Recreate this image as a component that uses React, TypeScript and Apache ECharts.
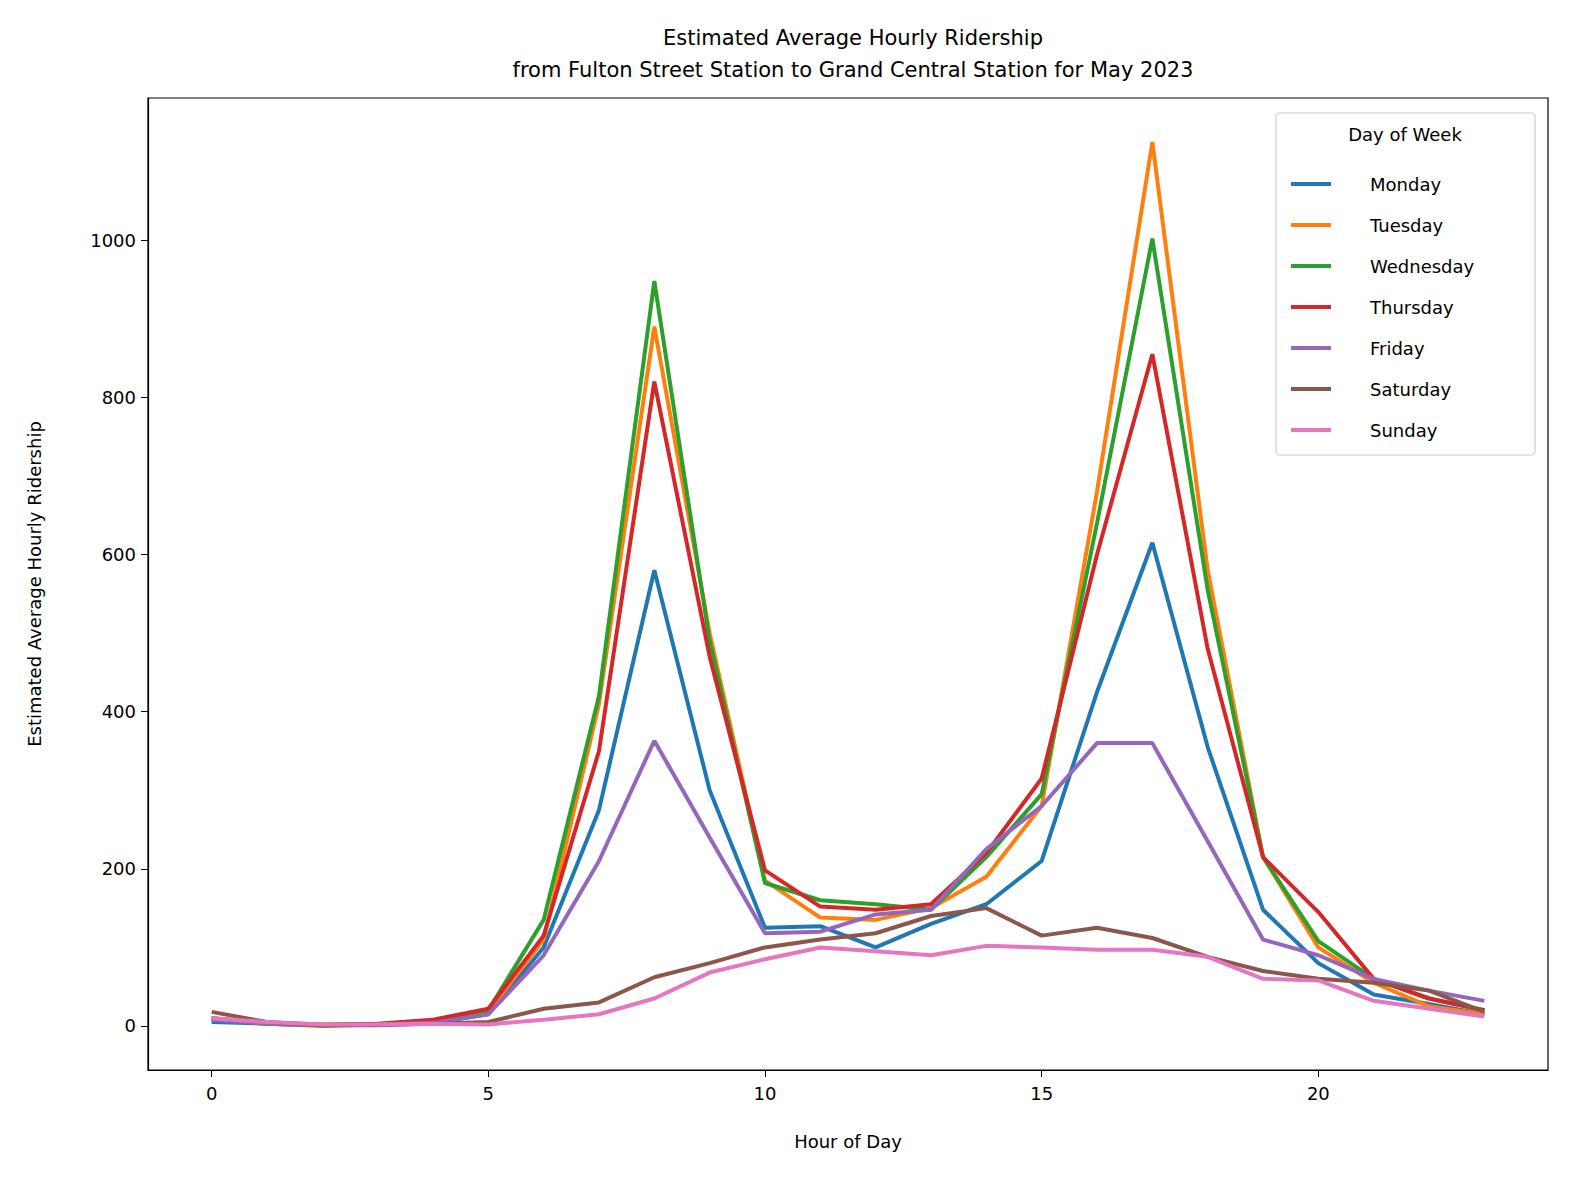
import * as echarts from "echarts";
import { useEffect, useRef } from "react";

const hours = Array.from({ length: 24 }, (_, i) => i);
const dayNames = ["Monday", "Tuesday", "Wednesday", "Thursday", "Friday", "Saturday", "Sunday"];
const colors = ["#1f77b4", "#ff7f0e", "#2ca02c", "#d62728", "#9467bd", "#8c564b", "#e377c2"];

const monday = [5, 3, 1, 2, 4, 15, 100, 275, 580, 300, 125, 127, 100, 130, 155, 210, 425, 615, 355, 148, 80, 40, 28, 15];
const tuesday = [10, 3, 0, 2, 5, 18, 110, 410, 890, 500, 185, 138, 135, 150, 190, 280, 680, 1125, 580, 215, 100, 55, 25, 15];
const wednesday = [8, 3, 1, 2, 5, 20, 135, 420, 948, 490, 182, 160, 155, 148, 215, 295, 640, 1002, 555, 215, 108, 60, 35, 20];
const thursday = [10, 4, 2, 3, 8, 22, 115, 350, 820, 470, 198, 152, 148, 155, 220, 315, 600, 855, 480, 215, 145, 60, 35, 20];
const friday = [8, 3, 1, 2, 4, 15, 90, 210, 363, 240, 118, 120, 142, 148, 225, 280, 360, 360, 235, 110, 90, 60, 45, 32];
const saturday = [18, 5, 1, 1, 3, 5, 22, 30, 62, 80, 100, 110, 118, 140, 150, 115, 125, 112, 88, 70, 60, 55, 45, 18];
const sunday = [10, 5, 2, 2, 3, 2, 8, 15, 35, 68, 85, 100, 95, 90, 102, 100, 97, 97, 88, 60, 58, 32, 22, 12];
const allDays = [monday, tuesday, wednesday, thursday, friday, saturday, sunday];

const xTicks = [0, 5, 10, 15, 20];
const yTicks = [0, 200, 400, 600, 800, 1000];

const font = "DejaVu Sans";

export default function App() {
  const ref = useRef<HTMLDivElement | null>(null);

  useEffect(() => {
    document.body.style.margin = "0";
    document.body.style.overflow = "hidden";
    document.documentElement.style.overflow = "hidden";
    if (!ref.current) return;
    const chart = echarts.init(ref.current, null, { renderer: "svg" });
    chart.setOption({
      animation: false,
      backgroundColor: "#fff",
      textStyle: { fontFamily: font },
      title: {
        text: "Estimated Average Hourly Ridership\nfrom Fulton Street Station to Grand Central Station for May 2023",
        left: 848,
        top: 17,
        textAlign: "center",
        textStyle: { fontSize: 21, fontWeight: "normal", color: "#000", lineHeight: 32, fontFamily: font },
      },
      grid: { left: 148, right: 31, top: 98, bottom: 115, containLabel: false, outerBoundsMode: "none" },
      xAxis: {
        type: "value",
        min: -1.15,
        max: 24.15,
        name: "Hour of Day",
        nameLocation: "middle",
        nameGap: 62,
        nameTextStyle: { fontSize: 18, color: "#000" },
        splitLine: { show: false },
        axisLine: { onZero: false, lineStyle: { color: "#000", width: 1.2 } },
        axisTick: { length: 7, lineStyle: { color: "#000" }, customValues: xTicks },
        axisLabel: { fontSize: 18, color: "#000", margin: 14, customValues: xTicks },
      },
      yAxis: {
        type: "value",
        min: -56,
        max: 1181,
        name: "Estimated Average Hourly Ridership",
        nameLocation: "middle",
        nameGap: 105,
        nameTextStyle: { fontSize: 18, color: "#000" },
        splitLine: { show: false },
        axisLine: { show: true, onZero: false, lineStyle: { color: "#000", width: 1.2 } },
        axisTick: { show: true, length: 7, lineStyle: { color: "#000" }, customValues: yTicks },
        axisLabel: { fontSize: 18, color: "#000", margin: 12, customValues: yTicks, formatter: (v: number) => String(v) },
      },
      legend: {
        orient: "vertical",
        left: 1286,
        top: 168,
        itemWidth: 40,
        itemHeight: 4,
        itemGap: 19,
        icon: "rect",
        data: dayNames.map((n, i) => ({ name: n, itemStyle: { color: colors[i] } })),
        textStyle: { fontSize: 18, color: "#000", padding: [0, 0, 0, 34], lineHeight: 22 },
      },
      graphic: [
        {
          type: "rect",
          shape: { x: 148, y: 98, width: 1400, height: 972 },
          style: { fill: "none", stroke: "#000", lineWidth: 1.2 },
          silent: true,
        },
        {
          type: "rect",
          shape: { x: 1276, y: 113, width: 259, height: 342, r: 4 },
          style: { fill: "rgba(255,255,255,0.8)", stroke: "#ccc", lineWidth: 1.2 },
          z: -1,
          silent: true,
        },
        {
          type: "text",
          x: 1405,
          y: 125,
          style: { text: "Day of Week", fontSize: 18, fill: "#000", align: "center", fontFamily: font },
        },
      ],
      series: dayNames.map((n, i) => ({
        name: n,
        type: "line",
        data: hours.map((h) => [h, allDays[i][h]]),
        showSymbol: false,
        lineStyle: { width: 4, color: colors[i] },
        itemStyle: { color: colors[i] },
      })),
    });
    return () => chart.dispose();
  }, []);

  return <div ref={ref} style={{ width: 1579, height: 1185 }} />;
}
